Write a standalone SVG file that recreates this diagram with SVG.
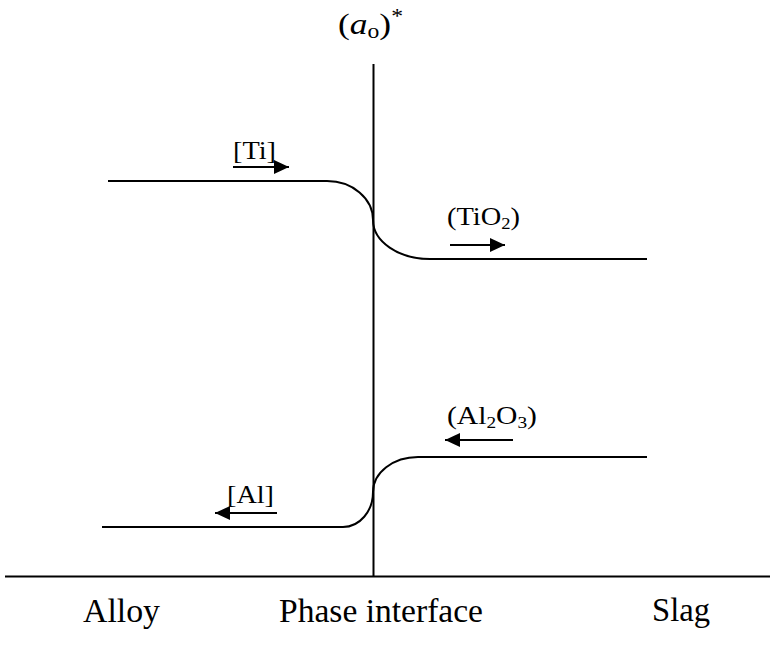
<svg xmlns="http://www.w3.org/2000/svg" width="775" height="651" viewBox="0 0 775 651">
<style>
.ln{fill:none;stroke:#000;stroke-width:2}
.t{font-family:"Liberation Serif","Times New Roman",serif;fill:#000}
.lbl{font-size:26px}
.ax{font-size:33px}
</style>
<defs>
<marker id="ah" markerUnits="userSpaceOnUse" markerWidth="16" markerHeight="14" refX="15" refY="7" orient="auto">
<path d="M0,0 L15,7 L0,14 Z" fill="#000"/>
</marker>
</defs>
<rect width="775" height="651" fill="#fff"/>
<g id="axes">
<line class="ln" x1="5" y1="576.5" x2="770" y2="576.5"/>
<line class="ln" x1="373.5" y1="64" x2="373.5" y2="577"/>
</g>
<g id="curves">
<path class="ln" d="M108,181 H327 A46,39 0 0 1 373,220 A57,39 0 0 0 430,259 H647"/>
<path class="ln" d="M102,527 H343 A30,35 0 0 0 373,492 A45,35 0 0 1 418,457 H647"/>
</g>
<g id="connectors">
<line class="ln" x1="233" y1="167" x2="289" y2="167" marker-end="url(#ah)"/>
<line class="ln" x1="450" y1="245" x2="505" y2="245" marker-end="url(#ah)"/>
<line class="ln" x1="513" y1="440" x2="445" y2="440" marker-end="url(#ah)"/>
<line class="ln" x1="277" y1="513" x2="215" y2="513" marker-end="url(#ah)"/>
</g>
<g id="top-label">
<text class="t" x="338" y="34" font-size="30" textLength="65" lengthAdjust="spacingAndGlyphs">(<tspan font-style="italic">a</tspan><tspan font-size="20" dy="4">o</tspan><tspan dy="-4">)</tspan><tspan font-size="20" dy="-11">*</tspan></text>
</g>
<g id="ti">
<text class="t lbl" x="233" y="159" textLength="43" lengthAdjust="spacingAndGlyphs">[Ti]</text>
</g>
<g id="tio2">
<text class="t lbl" x="447" y="225" textLength="73" lengthAdjust="spacingAndGlyphs">(TiO<tspan font-size="17" dy="4">2</tspan><tspan dy="-4">)</tspan></text>
</g>
<g id="al2o3">
<text class="t lbl" x="447" y="424" textLength="90" lengthAdjust="spacingAndGlyphs">(Al<tspan font-size="17" dy="4">2</tspan><tspan dy="-4">O</tspan><tspan font-size="17" dy="4">3</tspan><tspan dy="-4">)</tspan></text>
</g>
<g id="al">
<text class="t lbl" x="227" y="503" textLength="47" lengthAdjust="spacingAndGlyphs">[Al]</text>
</g>
<g id="bottom-labels">
<text class="t ax" x="83" y="622" textLength="77" lengthAdjust="spacingAndGlyphs">Alloy</text>
<text class="t ax" x="279" y="622" textLength="204" lengthAdjust="spacingAndGlyphs">Phase interface</text>
<text class="t ax" x="652" y="621" textLength="58" lengthAdjust="spacingAndGlyphs">Slag</text>
</g>
</svg>
